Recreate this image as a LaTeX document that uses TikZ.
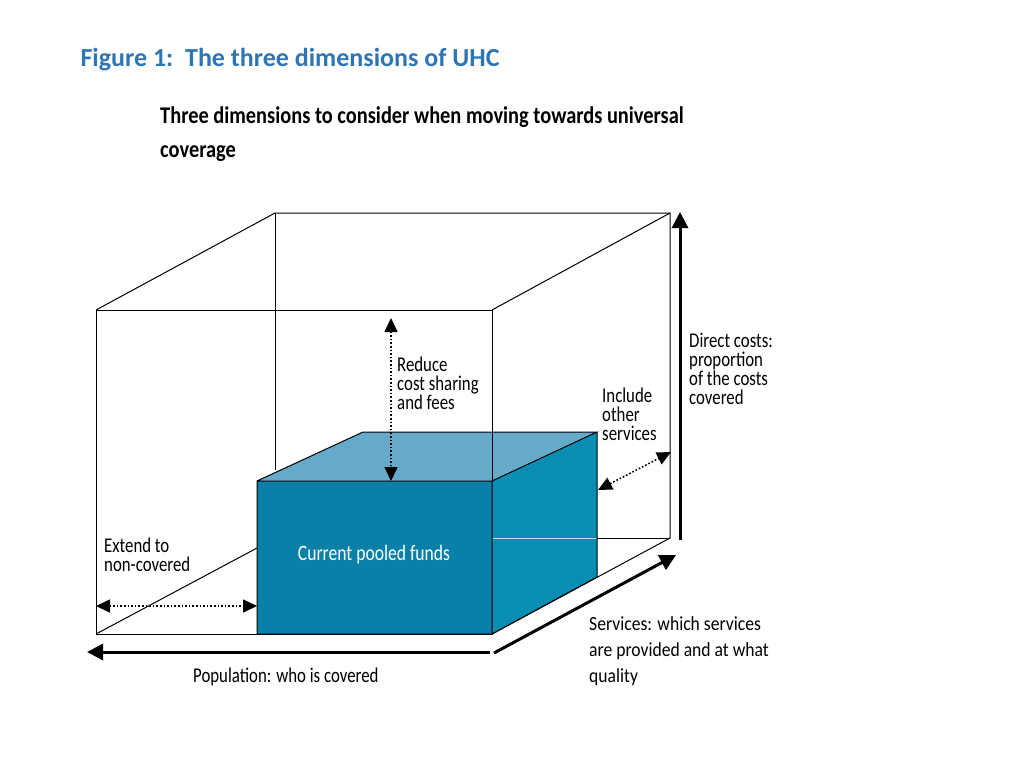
\documentclass[tikz,border=0pt]{standalone}
\usepackage{fontspec}
\setmainfont{Carlito}
\usetikzlibrary{arrows.meta}
\definecolor{titleblue}{HTML}{2E75B6}
\definecolor{boxfront}{HTML}{0A80A9}
\definecolor{boxside}{HTML}{0A8DB3}
\definecolor{boxtop}{HTML}{4A9CC0}
\tikzset{
  edge/.style={line width=1pt},
  bigarrow/.style={line width=3pt,-{Triangle[length=16pt,width=16pt]}},
  dotarrow/.style={line width=1.6pt,dotted,{Triangle[length=14pt,width=13pt]}-{Triangle[length=14pt,width=13pt]}},
  lbl/.style={align=left,anchor=north west,inner sep=0pt,font=\fontsize{21}{19}\selectfont\addfontfeatures{FakeStretch=0.8}}
}
\begin{document}
\begin{tikzpicture}[x=1pt,y=-1pt]
        \useasboundingbox (0,0) rectangle (1024,768);
        \node (title) [anchor=west,text=titleblue,font=\fontsize{26}{28}\selectfont\bfseries] at (77,60) {Figure 1:\ \ The three dimensions of UHC};
        \node (sub) [lbl,font=\fontsize{24}{34}\selectfont\bfseries\addfontfeatures{FakeStretch=0.85}] at (160,106) {Three dimensions to consider when moving towards universal\\coverage};
        % outer cube
        \coordinate (f1) at (96,310); \coordinate (f2) at (492,310);
        \coordinate (f3) at (492,634); \coordinate (f4) at (96,634);
        \coordinate (b1) at (275,213); \coordinate (b2) at (670,213);
        \coordinate (b3) at (670,538);
        \draw [edge] (f1) -- (f2) -- (f3) -- (f4) -- cycle;
        \draw [edge] (f1) -- (b1) -- (b2) -- (b3) -- (f3);
        \draw [edge] (f2) -- (b2);
        \draw [edge] (b1) -- (275,470);
        \draw [edge] (f4) -- (257,548);
        \draw [edge] (b3) -- (597,538);
        % pooled funds box
        \coordinate (p1) at (257,481); \coordinate (p2) at (492,481);
        \coordinate (p3) at (492,634); \coordinate (p4) at (257,634);
        \coordinate (q1) at (363,432); \coordinate (q2) at (597,432);
        \coordinate (q3) at (597,577);
        \fill [boxfront] (p1) rectangle (p3);
        \fill [boxside] (p2) -- (q2) -- (q3) -- (p3) -- cycle;
        \fill [boxtop,fill opacity=0.85] (p1) -- (q1) -- (q2) -- (p2) -- cycle;
        \draw [white!70!boxside,line width=1pt] (p2 |- b3) -- (597,538);
        \draw [edge] (p1) -- (q1) -- (q2) -- (p2) -- (p1) -- (p4) -- (p3);
        \draw [edge] (p2) -- (p3) -- (q3) -- (q2);
        \draw [edge] (f2) -- (p2);
        \node (pooled) [text=white,font=\fontsize{22}{24}\selectfont\addfontfeatures{FakeStretch=0.8}] at (374,555) {Current pooled funds};
        % dimension arrows
        \draw [bigarrow] (680,540) -- (680,212);
        \draw [bigarrow] (490,652) -- (87,652);
        \draw [bigarrow] (494,653) -- (676,555);
        \draw [dotarrow] (391,318) -- (391,481);
        \draw [dotarrow] (96,606) -- (257,606);
        \draw [dotarrow] (598,490) -- (671,452);
        % labels
        \node (reduce) [lbl] at (397,357) {Reduce\\cost sharing\\and fees};
        \node (include) [lbl] at (602,388) {Include\\other\\services};
        \node (direct) [lbl] at (689,333) {Direct costs:\\proportion\\of the costs\\covered};
        \node (extend) [lbl] at (104,538) {Extend to\\non-covered};
        \node (services) [lbl,font=\fontsize{20}{26}\selectfont\addfontfeatures{FakeStretch=0.88}] at (589,616) {Services: which services\\are provided and at what\\quality};
        \node (population) [lbl] at (193,668) {Population: who is covered};
\end{tikzpicture}
\end{document}
